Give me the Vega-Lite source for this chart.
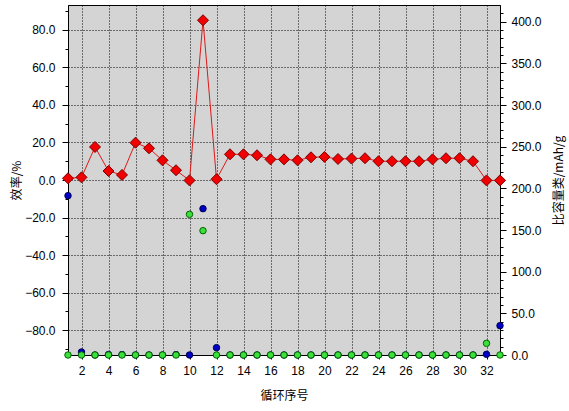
{
  "$schema": "https://vega.github.io/schema/vega-lite/v6.json",
  "autosize": {"type": "none"},
  "padding": {"left": 68, "top": 5, "right": 69, "bottom": 56},
  "width": 432,
  "height": 350,
  "background": "white",
  "config": {
    "view": {"fill": "#D4D4D4", "stroke": "black", "strokeWidth": 1},
    "axis": {
      "labelFont": "Liberation Sans",
      "labelFontSize": 12,
      "labelColor": "black",
      "labelOverlap": false,
      "titleFont": "Noto Sans CJK SC",
      "titleFontSize": 12,
      "titleFontWeight": "normal",
      "titleColor": "black",
      "domainColor": "black",
      "tickColor": "black",
      "gridColor": "black",
      "gridDash": [1, 2],
      "gridWidth": 1
    }
  },
  "data": {
    "values": [
      {"cycle": 1, "eff": 0.9, "blue": 191.2, "green": 0},
      {"cycle": 2, "eff": 1.4, "blue": 3.6, "green": 0},
      {"cycle": 3, "eff": 17.6, "blue": 0, "green": 0},
      {"cycle": 4, "eff": 4.8, "blue": 0.5, "green": 0},
      {"cycle": 5, "eff": 2.7, "blue": 0.5, "green": 0},
      {"cycle": 6, "eff": 19.9, "blue": 0, "green": 0},
      {"cycle": 7, "eff": 16.9, "blue": 0, "green": 0},
      {"cycle": 8, "eff": 10.5, "blue": 0, "green": 0},
      {"cycle": 9, "eff": 5.2, "blue": 0.5, "green": 0},
      {"cycle": 10, "eff": -0.2, "blue": 0, "green": 168.8},
      {"cycle": 11, "eff": 85.2, "blue": 175.6, "green": 149.2},
      {"cycle": 12, "eff": 0.4, "blue": 8.8, "green": 0},
      {"cycle": 13, "eff": 13.7, "blue": 0, "green": 0},
      {"cycle": 14, "eff": 13.7, "blue": 0, "green": 0},
      {"cycle": 15, "eff": 13.2, "blue": 0, "green": 0},
      {"cycle": 16, "eff": 11.0, "blue": 0, "green": 0},
      {"cycle": 17, "eff": 11.0, "blue": 0, "green": 0},
      {"cycle": 18, "eff": 10.5, "blue": 0, "green": 0},
      {"cycle": 19, "eff": 12.1, "blue": 0, "green": 0},
      {"cycle": 20, "eff": 12.3, "blue": 0, "green": 0},
      {"cycle": 21, "eff": 11.2, "blue": 0, "green": 0},
      {"cycle": 22, "eff": 11.4, "blue": 0, "green": 0},
      {"cycle": 23, "eff": 11.6, "blue": 0, "green": 0},
      {"cycle": 24, "eff": 10.0, "blue": 0, "green": 0},
      {"cycle": 25, "eff": 10.0, "blue": 0, "green": 0},
      {"cycle": 26, "eff": 10.0, "blue": 0, "green": 0},
      {"cycle": 27, "eff": 10.0, "blue": 0, "green": 0},
      {"cycle": 28, "eff": 11.0, "blue": 0, "green": 0},
      {"cycle": 29, "eff": 11.6, "blue": 0, "green": 0},
      {"cycle": 30, "eff": 11.6, "blue": 0, "green": 0},
      {"cycle": 31, "eff": 10.0, "blue": 0, "green": 0},
      {"cycle": 32, "eff": -0.2, "blue": 0.8, "green": 14.0},
      {"cycle": 33, "eff": -0.2, "blue": 35.2, "green": 0}
    ]
  },
  "encoding": {
    "x": {
      "field": "cycle", "type": "quantitative",
      "scale": {"domain": [1, 33], "nice": false, "zero": false},
      "axis": {
        "title": "循环序号",
        "values": [2, 4, 6, 8, 10, 12, 14, 16, 18, 20, 22, 24, 26, 28, 30, 32],
        "grid": true,
        "tickSize": 4,
        "labelPadding": 6,
        "labelOverlap": false,
        "titleY": 40,
        "titleBaseline": "middle"
      }
    }
  },
  "layer": [
    {
      "encoding": {
        "y": {
          "field": "eff", "type": "quantitative",
          "scale": {"domain": [-93.33, 93.33], "nice": false, "zero": false},
          "axis": {
            "title": "效率/%",
            "values": [-90, -80, -70, -60, -50, -40, -30, -20, -10, 0, 10, 20, 30, 40, 50, 60, 70, 80, 90],
            "labelExpr": "datum.value % 20 === 0 ? format(datum.value, '.1f') : ''",
            "labelOverlap": false,
            "grid": true,
            "gridOpacity": {"condition": {"test": "datum.value % 20 === 0", "value": 1}, "value": 0},
            "tickSize": {"condition": {"test": "datum.value % 20 === 0", "value": 6}, "value": 3},
            "labelPadding": 7,
            "titleX": -52,
            "titleY": 175,
            "titleBaseline": "middle",
            "titleAngle": -90
          }
        }
      },
      "layer": [
        {"mark": {"type": "line", "color": "#E01818", "strokeWidth": 1}},
        {"mark": {"type": "point", "shape": "diamond", "size": 121, "filled": true, "fill": "#F00000", "stroke": "#7A0000", "strokeWidth": 1, "opacity": 1}}
      ]
    },
    {
      "transform": [{"fold": ["blue", "green"], "as": ["series", "cap"]}],
      "mark": {"type": "point", "shape": "circle", "size": 42, "filled": true, "strokeWidth": 1, "opacity": 1},
      "encoding": {
        "y": {
          "field": "cap", "type": "quantitative",
          "scale": {"domain": [0, 420], "nice": false, "zero": false},
          "axis": {
            "orient": "right",
            "title": "比容量类/mAh/g",
            "values": [0, 10, 20, 30, 40, 50, 60, 70, 80, 90, 100, 110, 120, 130, 140, 150, 160, 170, 180, 190, 200, 210, 220, 230, 240, 250, 260, 270, 280, 290, 300, 310, 320, 330, 340, 350, 360, 370, 380, 390, 400, 410],
            "labelExpr": "datum.value % 50 === 0 ? format(datum.value, '.1f') : ''",
            "labelOverlap": false,
            "grid": false,
            "tickSize": {"condition": {"test": "datum.value % 50 === 0", "value": 6}, "value": 3},
            "labelPadding": 5,
            "titleX": 58,
            "titleY": 175,
            "titleBaseline": "middle",
            "titleAngle": -90
          }
        },
        "fill": {
          "field": "series", "type": "nominal",
          "scale": {"domain": ["blue", "green"], "range": ["#0000C8", "#3CE03C"]},
          "legend": null
        },
        "stroke": {
          "field": "series", "type": "nominal",
          "scale": {"domain": ["blue", "green"], "range": ["#000050", "#006400"]},
          "legend": null
        }
      }
    }
  ],
  "resolve": {"scale": {"y": "independent"}, "axis": {"y": "independent"}}
}
